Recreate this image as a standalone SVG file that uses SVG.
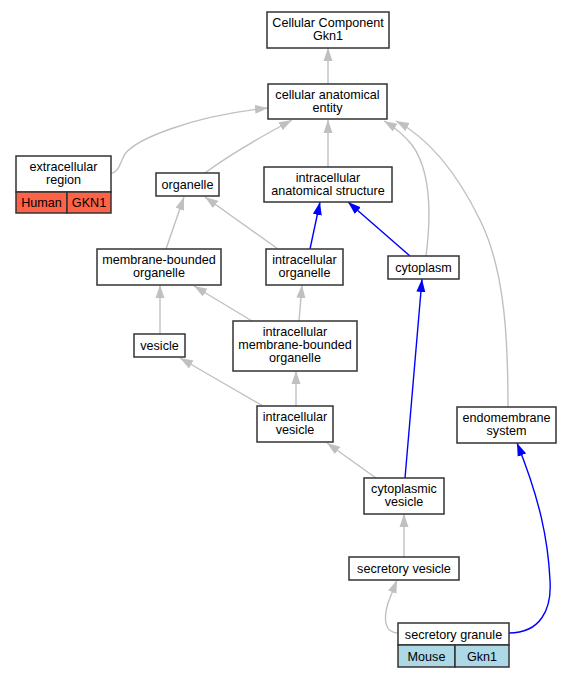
<svg xmlns="http://www.w3.org/2000/svg" width="572" height="677" viewBox="0 0 572 677">
<style>
.n{fill:#fff;stroke:#333;stroke-width:1.5}
.h{fill:#ff6347;stroke:#333;stroke-width:1.5}
.m{fill:#add8e6;stroke:#333;stroke-width:1.5}
text{font-family:"Liberation Sans",Arial,sans-serif;font-size:12.6px;fill:#000;text-anchor:middle}
.g{fill:none;stroke:#c0c0c0;stroke-width:1.4}
.b{fill:none;stroke:#0000ff;stroke-width:1.4}
.g{marker-end:url(#ag)}
.b{marker-end:url(#ab)}
</style>
<defs>
<marker id="ag" markerWidth="13" markerHeight="10" refX="13" refY="5" orient="auto" markerUnits="userSpaceOnUse"><path d="M0,0.5 L13,5 L0,9.5 z" fill="#c0c0c0"/></marker>
<marker id="ab" markerWidth="13" markerHeight="10" refX="13" refY="5" orient="auto" markerUnits="userSpaceOnUse"><path d="M0,0.5 L13,5 L0,9.5 z" fill="#0000ff"/></marker>
</defs>
<rect width="572" height="677" fill="#fff"/>
<g id="edges">
<path class="g" d="M328,84 L328,48"/>
<path class="g" d="M111,173 C119,173 121,160 125,154 C135,140 190,116 268,108"/>
<path class="g" d="M205,173 C225,158 255,140 292,120"/>
<path class="g" d="M328,167 L328,120"/>
<path class="g" d="M426,256 C430,225 434,175 412,145 C404,135 394,127 384,121"/>
<path class="g" d="M508,407 C508,340 505,270 480,220 C458,175 432,140 396,121"/>
<path class="g" d="M278,249 L205,197"/>
<path class="g" d="M166,249 L184,197"/>
<path class="b" d="M310,249 L320,202"/>
<path class="b" d="M410,256 L348,202"/>
<path class="g" d="M160,334 L160,285"/>
<path class="g" d="M252,321 L194,286"/>
<path class="g" d="M299,321 L302,285"/>
<path class="b" d="M405,478 L422,279"/>
<path class="g" d="M263,406 L180,358"/>
<path class="g" d="M296,406 L296,371"/>
<path class="g" d="M376,478 L327,443"/>
<path class="g" d="M404,557 L404,514"/>
<path class="g" d="M398,633 C385,633 383,620 388,603 L397,580"/>
<path class="b" d="M509,633 C540,633 552,610 550,580 C548,540 540,500 517,443"/>
</g>
<g id="cc_gkn1"><rect class="n" x="267" y="12" width="122" height="36"/><text x="328" y="27">Cellular Component</text><text x="328" y="40">Gkn1</text></g>
<g id="cellular_anatomical_entity"><rect class="n" x="268" y="84" width="119" height="35"/><text x="327.5" y="98.5">cellular anatomical</text><text x="327.5" y="111.5">entity</text></g>
<g id="extracellular_region"><rect class="n" x="16" y="156" width="95" height="36"/><text x="63.5" y="171">extracellular</text><text x="63.5" y="184">region</text><rect class="h" x="16" y="192" width="51" height="21"/><rect class="h" x="67" y="192" width="44" height="21"/><text x="41.5" y="207">Human</text><text x="89" y="207">GKN1</text></g>
<g id="organelle"><rect class="n" x="156" y="173" width="63" height="23"/><text x="187.5" y="189">organelle</text></g>
<g id="intracellular_anatomical_structure"><rect class="n" x="264" y="167" width="128" height="35"/><text x="328" y="181.5">intracellular</text><text x="328" y="194.5">anatomical structure</text></g>
<g id="membrane_bounded_organelle"><rect class="n" x="97" y="249" width="124" height="36"/><text x="159" y="264">membrane-bounded</text><text x="159" y="277">organelle</text></g>
<g id="intracellular_organelle"><rect class="n" x="266" y="249" width="77" height="36"/><text x="304.5" y="264">intracellular</text><text x="304.5" y="277">organelle</text></g>
<g id="cytoplasm"><rect class="n" x="388" y="256" width="71" height="23"/><text x="423.5" y="272">cytoplasm</text></g>
<g id="vesicle"><rect class="n" x="134" y="334" width="51" height="23"/><text x="159.5" y="350">vesicle</text></g>
<g id="intracellular_membrane_bounded_organelle"><rect class="n" x="233" y="321" width="124" height="50"/><text x="295" y="336">intracellular</text><text x="295" y="349">membrane-bounded</text><text x="295" y="362">organelle</text></g>
<g id="intracellular_vesicle"><rect class="n" x="257" y="406" width="76" height="36"/><text x="295" y="421">intracellular</text><text x="295" y="434">vesicle</text></g>
<g id="endomembrane_system"><rect class="n" x="457" y="407" width="99" height="36"/><text x="506.5" y="422">endomembrane</text><text x="506.5" y="435">system</text></g>
<g id="cytoplasmic_vesicle"><rect class="n" x="364" y="478" width="80" height="36"/><text x="404" y="493">cytoplasmic</text><text x="404" y="506">vesicle</text></g>
<g id="secretory_vesicle"><rect class="n" x="349" y="557" width="110" height="23"/><text x="404" y="573">secretory vesicle</text></g>
<g id="secretory_granule"><rect class="n" x="398" y="623" width="111" height="22"/><text x="453.5" y="638.5">secretory granule</text><rect class="m" x="398" y="645" width="57" height="22"/><rect class="m" x="455" y="645" width="54" height="22"/><text x="426.5" y="660.5">Mouse</text><text x="482" y="660.5">Gkn1</text></g>
</svg>
